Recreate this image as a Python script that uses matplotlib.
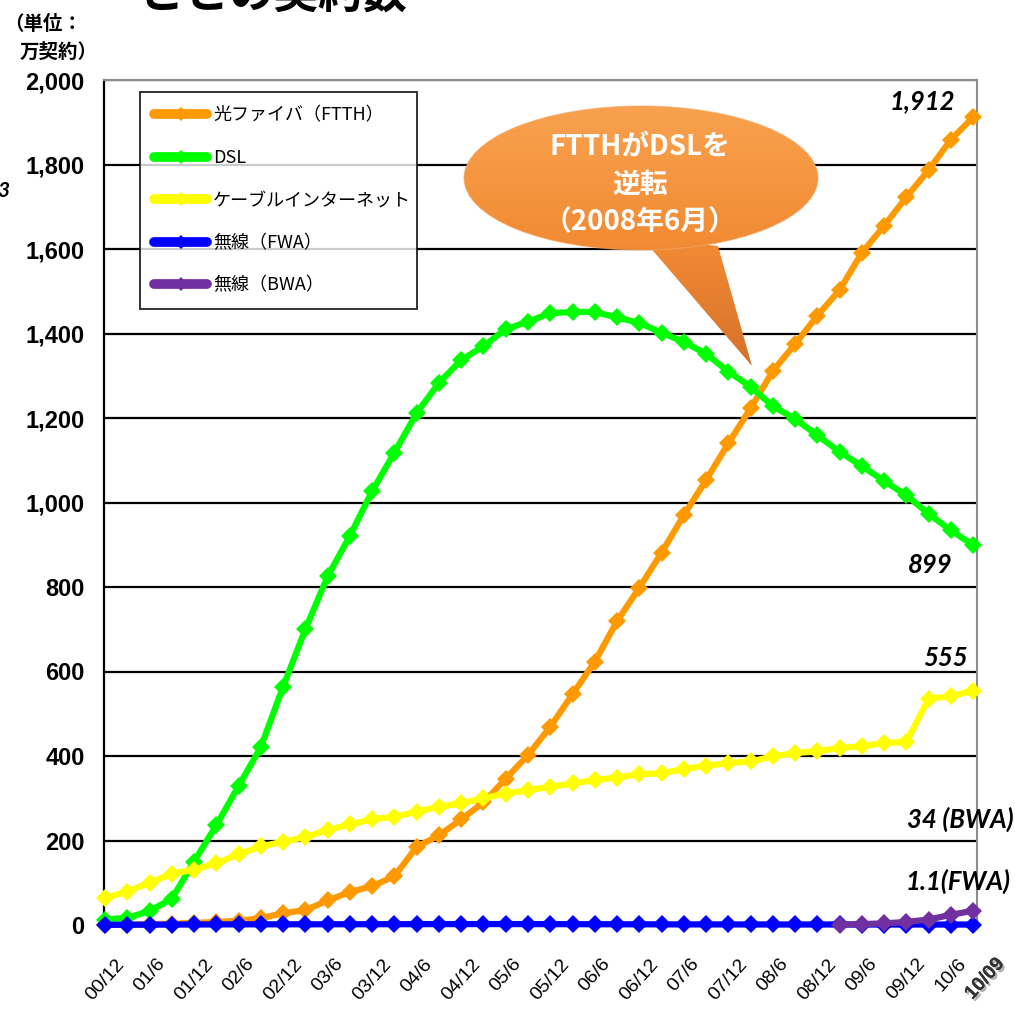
import numpy as np
import matplotlib
matplotlib.use('Agg')
import matplotlib.pyplot as plt
from matplotlib import font_manager, patheffects
from matplotlib.colors import LinearSegmentedColormap
from matplotlib.lines import Line2D
from matplotlib.patches import Ellipse, Polygon, PathPatch
from matplotlib.path import Path
from matplotlib.transforms import ScaledTranslation

plt.rcParams['font.family'] = ['Noto Sans CJK JP', 'DejaVu Sans']


def has_font(name):
    try:
        font_manager.findfont(font_manager.FontProperties(family=name),
                              fallback_to_default=False)
        return True
    except ValueError:
        return False


# Quarterly contracts (10k), 2000/12 .. 2010/9
ftth = [0.5, 1, 2, 3, 5, 7, 10, 16, 28, 35, 58, 78, 92, 115, 185, 212, 250, 290,
        346, 402, 469, 546, 623, 719, 798, 881, 970, 1053, 1140, 1223, 1311, 1375,
        1442, 1503, 1591, 1655, 1723, 1787, 1859, 1912]
dsl = [13, 17, 33, 62, 150, 236, 329, 421, 564, 700, 825, 921, 1027, 1118, 1212,
       1283, 1337, 1370, 1410, 1428, 1448, 1451, 1451, 1438, 1425, 1402, 1380, 1352,
       1310, 1274, 1228, 1198, 1159, 1120, 1086, 1051, 1017, 973, 934, 899]
cable = [64, 79, 100, 121, 131, 146, 167, 186, 197, 208, 225, 238, 250, 256, 268,
         280, 288, 300, 311, 319, 327, 335, 343, 349, 357, 359, 369, 377, 383, 387,
         399, 407, 411, 419, 423, 431, 433, 536, 541, 555]
fwa = [0.4, 0.6, 0.8, 1.0, 1.2, 1.4, 1.5, 1.6, 1.6, 1.7, 1.7, 1.8, 1.8, 1.9, 2.0,
       2.1, 2.1, 2.2, 2.2, 2.1, 2.0, 1.9, 1.8, 1.7, 1.6, 1.5, 1.4, 1.4, 1.3, 1.3,
       1.2, 1.2, 1.2, 1.2, 1.1, 1.1, 1.1, 1.1, 1.1, 1.1]
bwa = [np.nan] * 33 + [1, 2, 4, 7, 13, 24, 34]

tick_labels = ['00/12', '01/6', '01/12', '02/6', '02/12', '03/6', '03/12', '04/6',
               '04/12', '05/6', '05/12', '06/6', '06/12', '07/6', '07/12', '08/6',
               '08/12', '09/6', '09/12', '10/6']
last_label = '10/09'

names = ['光ファイバ（FTTH）', 'DSL', 'ケーブルインターネット', '無線（FWA）', '無線（BWA）']
series = [ftth, dsl, cable, fwa, bwa]
colors = ['#FF9900', '#00FF00', '#FFFF00', '#0000FF', '#7030A0']

W, H = 1015, 1016
fig = plt.figure(figsize=(W / 100, H / 100), dpi=100, facecolor='white')
ax = fig.add_axes([104 / W, 1 - 925 / H, 873 / W, 845 / H])

x = np.arange(len(dsl))
for i, (vals, c) in enumerate(zip(series, colors)):
    ax.plot(x, vals, color=c, lw=4.5, marker='D', markersize=9,
            markeredgewidth=0, clip_on=False, zorder=3 + i)

ax.set_xlim(-0.045, 39.17)
ax.set_ylim(0, 2000)

# y axis
if has_font('Liberation Sans Narrow'):
    num_font, ysize, xsize = 'Liberation Sans Narrow', 20, 17
else:
    num_font, ysize, xsize = 'Liberation Sans', 17, 14
ax.set_yticks(np.arange(0, 2001, 200))
ax.set_yticklabels([f'{v:,}' for v in range(0, 2001, 200)],
                   family=[num_font, 'DejaVu Sans'], fontweight='bold', fontsize=ysize)
ax.tick_params(axis='y', length=0, pad=14)
ax.yaxis.grid(True, color='black', lw=1.6)
ax.set_axisbelow(True)

# x axis: every second quarter plus the latest one
xt = list(np.arange(0, len(dsl) - 1, 2)) + [len(dsl) - 1]
ax.set_xticks(xt)
ax.set_xticklabels(tick_labels + [last_label], rotation=48, ha='center', va='top',
                   family=[num_font, 'DejaVu Sans'], fontsize=xsize)
ax.tick_params(axis='x', length=0, pad=22)
lab = ax.get_xticklabels()[-1]
lab.set_fontweight('bold')
lab.set_color('#333333')
lab.set_transform(lab.get_transform() + ScaledTranslation(0.12, 0, fig.dpi_scale_trans))
lab.set_path_effects([patheffects.withSimplePatchShadow(offset=(1.5, -1.5),
                                                       shadow_rgbFace='#888888', alpha=0.7),
                      patheffects.Normal()])

for s in ['top', 'right']:
    ax.spines[s].set_color('#8c8c8c')
    ax.spines[s].set_linewidth(1.5)
for s in ['left', 'bottom']:
    ax.spines[s].set_color('black')
    ax.spines[s].set_linewidth(1.6)

# legend
handles = [Line2D([], [], color=c, lw=7, solid_capstyle='round', marker='D',
                  markersize=7, markeredgewidth=0) for c in colors]
leg = ax.legend(handles, names, loc='upper left',
                bbox_to_anchor=(36 / 873, 0.5, 277 / 873, 1 - 12 / 845 - 0.5),
                mode='expand', borderaxespad=0, fontsize=13, handlelength=2.9,
                handletextpad=0.35, labelspacing=1.36, borderpad=0.8,
                frameon=True, fancybox=False, edgecolor='black')
leg.get_frame().set_linewidth(1.4)
leg.set_zorder(20)

# end-of-series value labels
lbl = dict(fontsize=18.5, fontweight='bold', style='italic',
           family=['Lato', 'DejaVu Sans'], color='black',
           textcoords='offset pixels', annotation_clip=False, va='center', zorder=30)
n = len(dsl) - 1
ax.annotate(f'{ftth[-1]:,}', xy=(n, ftth[-1]), xytext=(-18, 16), ha='right', **lbl)
ax.annotate(f'{dsl[-1]:,}', xy=(n, dsl[-1]), xytext=(-21, -20), ha='right', **lbl)
ax.annotate(f'{cable[-1]:,}', xy=(n, cable[-1]), xytext=(-5, 33), ha='right', **lbl)
ax.annotate(f'{bwa[-1]} (BWA)', xy=(n, bwa[-1]), xytext=(40, 91), ha='right', **lbl)
ax.annotate(f'{fwa[-1]}(FWA)', xy=(n, fwa[-1]), xytext=(37, 43), ha='right', **lbl)

# overlay in pixel coordinates for titles and the callout
ov = fig.add_axes([0, 0, 1, 1], zorder=10)
ov.axis('off')

ell = Ellipse((641, 178), 354, 144)
ell_path = ell.get_patch_transform().transform_path(ell.get_path())
tail = Polygon([(642, 238), (718, 246), (752, 366)], closed=True)
bubble = Path.make_compound_path(ell_path, tail.get_path())
clip = PathPatch(bubble, facecolor='none', edgecolor='none', transform=ov.transData)
ov.add_patch(clip)
cmap = LinearSegmentedColormap.from_list('bubble', ['#F9A24F', '#F28C35', '#D6702A'])
grad = np.linspace(0, 1, 256).reshape(-1, 1)
im = ov.imshow(grad, extent=(460, 825, 370, 104), cmap=cmap, aspect='auto',
               interpolation='bilinear')
im.set_clip_path(clip)
ov.add_patch(Ellipse((641, 178), 354, 144, facecolor='none', edgecolor='#F6A968',
                     lw=0.8, alpha=0.6))

bt = dict(color='white', fontweight='bold', fontsize=20, ha='center', va='center')
ov.text(640, 147, 'FTTHがDSLを', **bt)
ov.text(640, 185, '逆転', **bt)
ov.text(640, 222, '（2008年6月）', **bt)

ov.text(140, 9, 'ごとの契約数', fontsize=32, fontweight='bold', ha='left', va='baseline')
ov.text(4, 24, '（単位：', fontsize=14, fontweight='bold', ha='left', va='center')
ov.text(20, 52, '万契約）', fontsize=14, fontweight='bold', ha='left', va='center')
ov.text(9, 191, '3', fontsize=15, fontweight='bold', style='italic', ha='right',
        va='center', family=['Lato', 'DejaVu Sans'])

ov.set_xlim(0, W)
ov.set_ylim(H, 0)

fig.savefig('out.png', dpi=100, facecolor='white')
